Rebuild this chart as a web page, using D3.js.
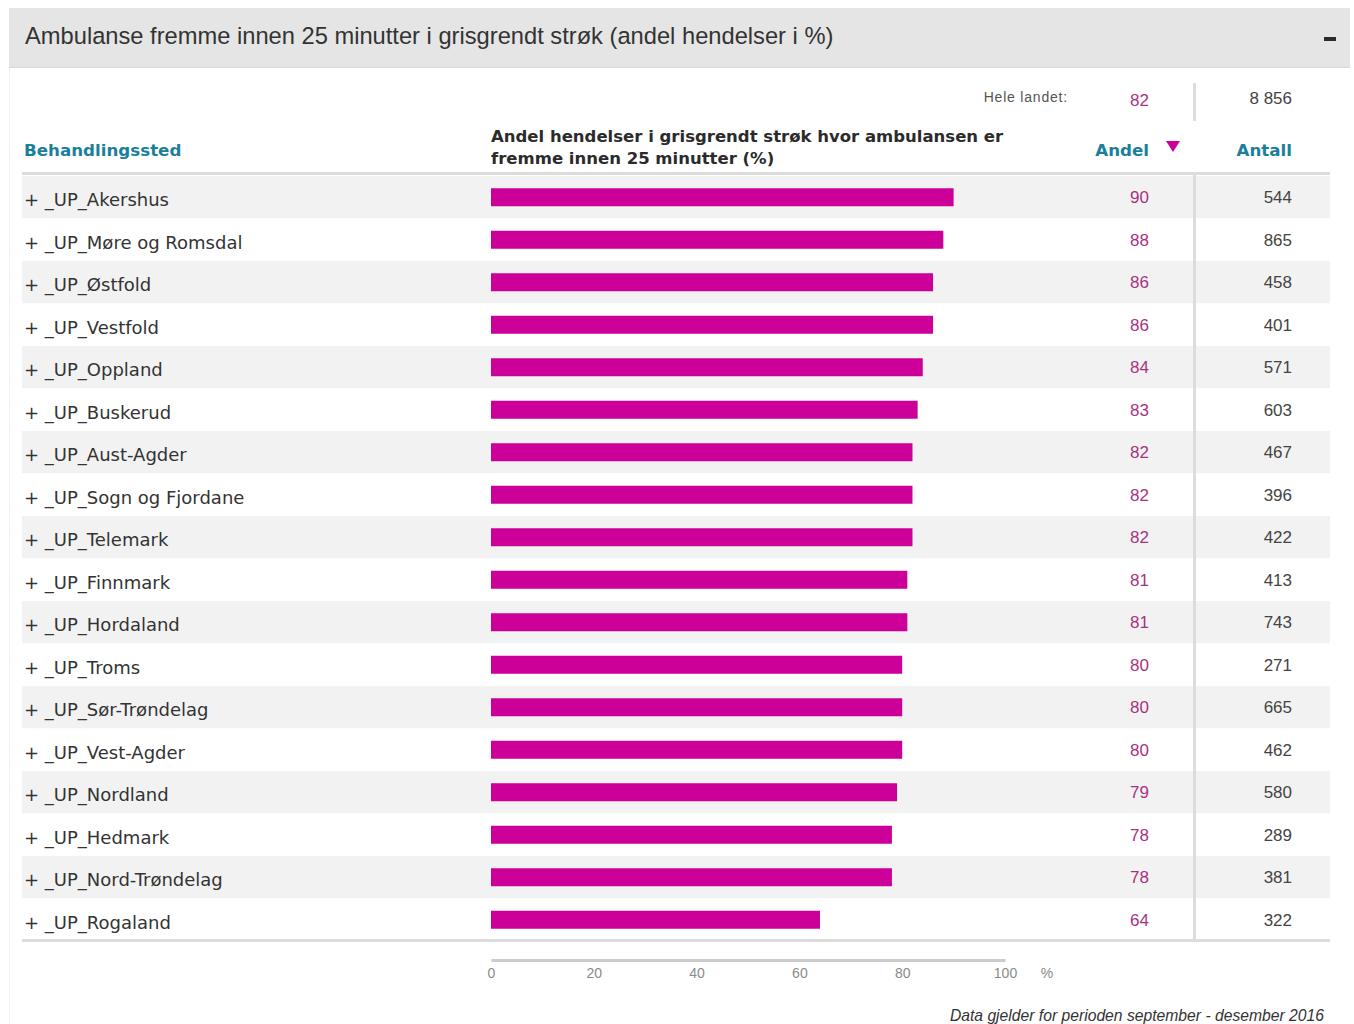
<!DOCTYPE html>
<html>
<head>
<meta charset="utf-8">
<script src="https://cdn.jsdelivr.net/npm/d3@7"></script>
<style>
  html, body { margin: 0; padding: 0; background: #ffffff; }
  svg { display: block; }
</style>
</head>
<body>
<svg id="chart" width="1354" height="1024"></svg>
<script>
// Behandlingssted, andel (%) og antall hendelser
const categories = [
  "+ _UP_Akershus", "+ _UP_Møre og Romsdal", "+ _UP_Østfold", "+ _UP_Vestfold",
  "+ _UP_Oppland", "+ _UP_Buskerud", "+ _UP_Aust-Agder", "+ _UP_Sogn og Fjordane",
  "+ _UP_Telemark", "+ _UP_Finnmark", "+ _UP_Hordaland", "+ _UP_Troms",
  "+ _UP_Sør-Trøndelag", "+ _UP_Vest-Agder", "+ _UP_Nordland", "+ _UP_Hedmark",
  "+ _UP_Nord-Trøndelag", "+ _UP_Rogaland"
];
const andel = [90, 88, 86, 86, 84, 83, 82, 82, 82, 81, 81, 80, 80, 80, 79, 78, 78, 64];
const antall = [544, 865, 458, 401, 571, 603, 467, 396, 422, 413, 743, 271, 665, 462, 580, 289, 381, 322];
const heleLandetAndel = 82;
const heleLandetAntall = "8 856";
const axisTicks = [0, 20, 40, 60, 80, 100];

const title = "Ambulanse fremme innen 25 minutter i grisgrendt strøk (andel hendelser i %)";
const colHeaderName = "Behandlingssted";
const colHeaderBar = ["Andel hendelser i grisgrendt strøk hvor ambulansen er", "fremme innen 25 minutter (%)"];
const footnote = "Data gjelder for perioden september - desember 2016";

const SANS = "'DejaVu Sans', Verdana, sans-serif";
const ARIAL = "'Liberation Sans', Arial, sans-serif";
const MAGENTA = "#cc0099";
const PURPLE = "#a8327f";
const TEAL = "#1b7f9b";

const svg = d3.select("#chart");

// Panel header
svg.append("rect").attr("x", 9).attr("y", 8).attr("width", 1341).attr("height", 59).attr("fill", "#e5e5e5");
svg.append("line").attr("x1", 9).attr("x2", 1350).attr("y1", 67.5).attr("y2", 67.5).attr("stroke", "#d8d8d8");
svg.append("line").attr("x1", 9.5).attr("x2", 9.5).attr("y1", 68).attr("y2", 1024).attr("stroke", "#f0f0f0");
svg.append("text").attr("x", 25).attr("y", 44)
  .attr("font-family", ARIAL).attr("font-size", 23.7).attr("fill", "#333")
  .text(title);
svg.append("rect").attr("x", 1324).attr("y", 37).attr("width", 12).attr("height", 4).attr("fill", "#2a2a2a");

// Scales
const y = d3.scaleBand().domain(categories).range([176, 941]).padding(0);
const x = d3.scaleLinear().domain([0, 100]).range([491, 1005]);
const barH = 18;
const andelRight = 1149, antallRight = 1292, sepX = 1194.5;

// Row backgrounds
svg.append("g").selectAll("rect").data(categories).join("rect")
  .attr("x", 22).attr("width", 1308)
  .attr("y", d => y(d)).attr("height", y.bandwidth())
  .attr("fill", (d, i) => i % 2 === 0 ? "#f2f2f2" : "#ffffff");

// Separator lines
svg.append("rect").attr("x", 22).attr("y", 172).attr("width", 1308).attr("height", 3).attr("fill", "#dcdcdc");
svg.append("rect").attr("x", 22).attr("y", 939).attr("width", 1308).attr("height", 3).attr("fill", "#dcdcdc");
svg.append("line").attr("x1", sepX).attr("x2", sepX).attr("y1", 83).attr("y2", 121).attr("stroke", "#dcdcdc").attr("stroke-width", 3);
svg.append("line").attr("x1", sepX).attr("x2", sepX).attr("y1", 175).attr("y2", 940).attr("stroke", "#dcdcdc").attr("stroke-width", 3);

// Hele landet
svg.append("text").attr("x", 1068).attr("y", 102).attr("text-anchor", "end")
  .attr("font-family", ARIAL).attr("font-size", 14).attr("fill", "#555").attr("letter-spacing", 0.8)
  .text("Hele landet:");
svg.append("text").attr("x", andelRight).attr("y", 106).attr("text-anchor", "end")
  .attr("font-family", ARIAL).attr("font-size", 17).attr("fill", PURPLE).text(heleLandetAndel);
svg.append("text").attr("x", antallRight).attr("y", 104).attr("text-anchor", "end")
  .attr("font-family", ARIAL).attr("font-size", 17).attr("fill", "#444").text(heleLandetAntall);

// Column headers
svg.append("text").attr("x", 24).attr("y", 156)
  .attr("font-family", SANS).attr("font-weight", 700).attr("font-size", 16.7).attr("fill", TEAL)
  .text(colHeaderName);
svg.append("g").selectAll("text").data(colHeaderBar).join("text")
  .attr("x", 491).attr("y", (d, i) => 142 + i * 22)
  .attr("font-family", SANS).attr("font-weight", 700).attr("font-size", 16.5).attr("fill", "#2b2b2b")
  .text(d => d);
svg.append("text").attr("x", andelRight).attr("y", 156).attr("text-anchor", "end")
  .attr("font-family", SANS).attr("font-weight", 700).attr("font-size", 16.7).attr("fill", TEAL).text("Andel");
svg.append("path").attr("d", "M1166,141 L1180,141 L1173,152 Z").attr("fill", MAGENTA);
svg.append("text").attr("x", antallRight).attr("y", 156).attr("text-anchor", "end")
  .attr("font-family", SANS).attr("font-weight", 700).attr("font-size", 16.7).attr("fill", TEAL).text("Antall");

// Row labels
svg.append("g").selectAll("text").data(categories).join("text")
  .attr("x", 24).attr("y", d => y(d) + y.bandwidth() / 2 + 9)
  .attr("font-family", SANS).attr("font-size", 18).attr("fill", "#333")
  .text(d => d);

// Bars
svg.append("g").selectAll("rect").data(andel).join("rect")
  .attr("x", x(0))
  .attr("y", (d, i) => y(categories[i]) + (y.bandwidth() - barH) / 2)
  .attr("width", d => x(d) - x(0)).attr("height", barH)
  .attr("fill", MAGENTA);

// Andel values
svg.append("g").selectAll("text").data(andel).join("text")
  .attr("x", andelRight).attr("y", (d, i) => y(categories[i]) + y.bandwidth() / 2 + 6)
  .attr("text-anchor", "end")
  .attr("font-family", ARIAL).attr("font-size", 17).attr("fill", PURPLE)
  .text(d => d);

// Antall values
svg.append("g").selectAll("text").data(antall).join("text")
  .attr("x", antallRight).attr("y", (d, i) => y(categories[i]) + y.bandwidth() / 2 + 6)
  .attr("text-anchor", "end")
  .attr("font-family", ARIAL).attr("font-size", 17).attr("fill", "#444")
  .text(d => d);

// Bottom axis
const axis = svg.append("g").attr("transform", "translate(0,960)")
  .call(d3.axisBottom(x).tickValues(axisTicks).tickSize(0).tickPadding(8));
axis.select(".domain").attr("stroke", "#cccccc").attr("stroke-width", 3);
axis.selectAll("text").attr("font-family", ARIAL).attr("font-size", 14).attr("fill", "#8a8a8a");
svg.append("text").attr("x", 1047).attr("y", 978).attr("text-anchor", "middle")
  .attr("font-family", ARIAL).attr("font-size", 14).attr("fill", "#8a8a8a").text("%");

// Footnote
svg.append("text").attr("x", 1324).attr("y", 1021).attr("text-anchor", "end")
  .attr("font-family", ARIAL).attr("font-style", "italic").attr("font-size", 15.7).attr("fill", "#333")
  .text(footnote);
</script>
</body>
</html>
